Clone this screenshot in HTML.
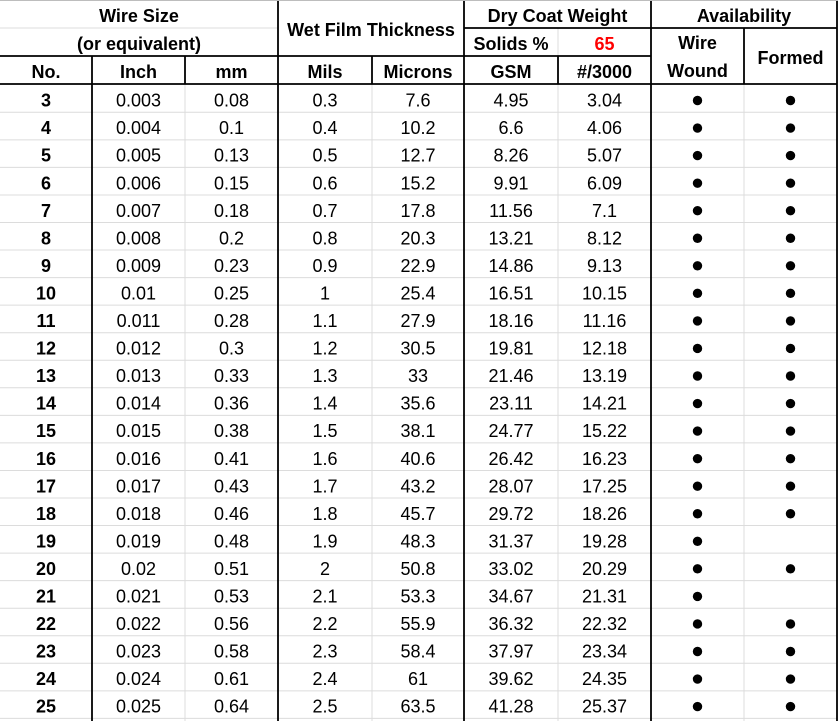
<!DOCTYPE html>
<html>
<head>
<meta charset="utf-8">
<style>
html,body{margin:0;padding:0;background:#fff;}
body{width:840px;height:721px;overflow:hidden;}
svg{display:block;}
.h{font-family:"Liberation Sans",sans-serif;font-weight:bold;font-size:18px;fill:#000;text-anchor:middle;}
.d{font-family:"Liberation Sans",sans-serif;font-size:18px;fill:#000;text-anchor:middle;}
.b{font-weight:bold;}
.g{stroke:#dcdcdc;stroke-width:1;}
.k{stroke:#000;stroke-width:1.8;}
</style>
</head>
<body>
<svg width="840" height="721" viewBox="0 0 840 721" xmlns="http://www.w3.org/2000/svg">
<rect x="0" y="0" width="840" height="721" fill="#fff"/>

<!-- data gridlines -->
<g class="g">
<line x1="0" x2="837" y1="139.85" y2="139.85"/>
<line x1="0" x2="837" y1="167.4" y2="167.4"/>
<line x1="0" x2="837" y1="194.95" y2="194.95"/>
<line x1="0" x2="837" y1="222.5" y2="222.5"/>
<line x1="0" x2="837" y1="250.05" y2="250.05"/>
<line x1="0" x2="837" y1="277.6" y2="277.6"/>
<line x1="0" x2="837" y1="305.15" y2="305.15"/>
<line x1="0" x2="837" y1="332.7" y2="332.7"/>
<line x1="0" x2="837" y1="360.25" y2="360.25"/>
<line x1="0" x2="837" y1="387.8" y2="387.8"/>
<line x1="0" x2="837" y1="415.35" y2="415.35"/>
<line x1="0" x2="837" y1="442.9" y2="442.9"/>
<line x1="0" x2="837" y1="470.45" y2="470.45"/>
<line x1="0" x2="837" y1="498" y2="498"/>
<line x1="0" x2="837" y1="525.55" y2="525.55"/>
<line x1="0" x2="837" y1="553.1" y2="553.1"/>
<line x1="0" x2="837" y1="580.65" y2="580.65"/>
<line x1="0" x2="837" y1="608.2" y2="608.2"/>
<line x1="0" x2="837" y1="635.75" y2="635.75"/>
<line x1="0" x2="837" y1="663.3" y2="663.3"/>
<line x1="0" x2="837" y1="690.85" y2="690.85"/>
<line x1="0" x2="837" y1="718.4" y2="718.4"/>
<line x1="0" x2="837" y1="112.3" y2="112.3"/>
<!-- vertical gray in data -->
<line x1="185" x2="185" y1="84" y2="721"/>
<line x1="372" x2="372" y1="84" y2="721"/>
<line x1="558" x2="558" y1="84" y2="721"/>
<line x1="744" x2="744" y1="84" y2="721"/>
<!-- header gray -->
<line x1="0" x2="278" y1="28" y2="28"/>
<line x1="558" x2="558" y1="28" y2="56"/>
</g>
<line x1="0" x2="838" y1="0.5" y2="0.5" stroke="#bdbdbd" stroke-width="1"/>

<!-- black borders -->
<g class="k">
<line x1="464" x2="837" y1="28" y2="28"/>
<line x1="0" x2="651" y1="56" y2="56"/>
<line x1="0" x2="837" y1="84" y2="84"/>
<line x1="92" x2="92" y1="56" y2="721"/>
<line x1="185" x2="185" y1="56" y2="84"/>
<line x1="278" x2="278" y1="1" y2="721"/>
<line x1="372" x2="372" y1="56" y2="84"/>
<line x1="464" x2="464" y1="1" y2="721"/>
<line x1="558" x2="558" y1="56" y2="84"/>
<line x1="651" x2="651" y1="1" y2="721"/>
<line x1="744" x2="744" y1="28" y2="84"/>
<line x1="837" x2="837" y1="1" y2="721"/>
</g>

<!-- headers -->
<text class="h" x="139" y="22">Wire Size</text>
<text class="h" x="139" y="50">(or equivalent)</text>
<text class="h" x="371" y="36">Wet Film Thickness</text>
<text class="h" x="557.5" y="22">Dry Coat Weight</text>
<text class="h" x="511" y="50">Solids %</text>
<text class="h" x="604.5" y="50" style="fill:#ff0000">65</text>
<text class="h" x="744" y="22">Availability</text>
<text class="h" x="697.5" y="49">Wire</text>
<text class="h" x="697.5" y="77">Wound</text>
<text class="h" x="790.5" y="64">Formed</text>
<text class="h" x="46" y="78">No.</text>
<text class="h" x="138.5" y="78">Inch</text>
<text class="h" x="231.5" y="78">mm</text>
<text class="h" x="325" y="78">Mils</text>
<text class="h" x="418" y="78">Microns</text>
<text class="h" x="511" y="78">GSM</text>
<text class="h" x="604.5" y="78">#/3000</text>

<!-- data rows -->
<g class="d">
<g transform="translate(0,112.3)"><text class="b" x="46" y="-5.7">3</text><text x="138.5" y="-5.7">0.003</text><text x="231.5" y="-5.7">0.08</text><text x="325" y="-5.7">0.3</text><text x="418" y="-5.7">7.6</text><text x="511" y="-5.7">4.95</text><text x="604.5" y="-5.7">3.04</text><circle cx="697.5" cy="-11.8" r="4.7" fill="#000"/><circle cx="790.5" cy="-11.8" r="4.7" fill="#000"/></g>
<g transform="translate(0,139.85)"><text class="b" x="46" y="-5.7">4</text><text x="138.5" y="-5.7">0.004</text><text x="231.5" y="-5.7">0.1</text><text x="325" y="-5.7">0.4</text><text x="418" y="-5.7">10.2</text><text x="511" y="-5.7">6.6</text><text x="604.5" y="-5.7">4.06</text><circle cx="697.5" cy="-11.8" r="4.7" fill="#000"/><circle cx="790.5" cy="-11.8" r="4.7" fill="#000"/></g>
<g transform="translate(0,167.4)"><text class="b" x="46" y="-5.7">5</text><text x="138.5" y="-5.7">0.005</text><text x="231.5" y="-5.7">0.13</text><text x="325" y="-5.7">0.5</text><text x="418" y="-5.7">12.7</text><text x="511" y="-5.7">8.26</text><text x="604.5" y="-5.7">5.07</text><circle cx="697.5" cy="-11.8" r="4.7" fill="#000"/><circle cx="790.5" cy="-11.8" r="4.7" fill="#000"/></g>
<g transform="translate(0,194.95)"><text class="b" x="46" y="-5.7">6</text><text x="138.5" y="-5.7">0.006</text><text x="231.5" y="-5.7">0.15</text><text x="325" y="-5.7">0.6</text><text x="418" y="-5.7">15.2</text><text x="511" y="-5.7">9.91</text><text x="604.5" y="-5.7">6.09</text><circle cx="697.5" cy="-11.8" r="4.7" fill="#000"/><circle cx="790.5" cy="-11.8" r="4.7" fill="#000"/></g>
<g transform="translate(0,222.5)"><text class="b" x="46" y="-5.7">7</text><text x="138.5" y="-5.7">0.007</text><text x="231.5" y="-5.7">0.18</text><text x="325" y="-5.7">0.7</text><text x="418" y="-5.7">17.8</text><text x="511" y="-5.7">11.56</text><text x="604.5" y="-5.7">7.1</text><circle cx="697.5" cy="-11.8" r="4.7" fill="#000"/><circle cx="790.5" cy="-11.8" r="4.7" fill="#000"/></g>
<g transform="translate(0,250.05)"><text class="b" x="46" y="-5.7">8</text><text x="138.5" y="-5.7">0.008</text><text x="231.5" y="-5.7">0.2</text><text x="325" y="-5.7">0.8</text><text x="418" y="-5.7">20.3</text><text x="511" y="-5.7">13.21</text><text x="604.5" y="-5.7">8.12</text><circle cx="697.5" cy="-11.8" r="4.7" fill="#000"/><circle cx="790.5" cy="-11.8" r="4.7" fill="#000"/></g>
<g transform="translate(0,277.6)"><text class="b" x="46" y="-5.7">9</text><text x="138.5" y="-5.7">0.009</text><text x="231.5" y="-5.7">0.23</text><text x="325" y="-5.7">0.9</text><text x="418" y="-5.7">22.9</text><text x="511" y="-5.7">14.86</text><text x="604.5" y="-5.7">9.13</text><circle cx="697.5" cy="-11.8" r="4.7" fill="#000"/><circle cx="790.5" cy="-11.8" r="4.7" fill="#000"/></g>
<g transform="translate(0,305.15)"><text class="b" x="46" y="-5.7">10</text><text x="138.5" y="-5.7">0.01</text><text x="231.5" y="-5.7">0.25</text><text x="325" y="-5.7">1</text><text x="418" y="-5.7">25.4</text><text x="511" y="-5.7">16.51</text><text x="604.5" y="-5.7">10.15</text><circle cx="697.5" cy="-11.8" r="4.7" fill="#000"/><circle cx="790.5" cy="-11.8" r="4.7" fill="#000"/></g>
<g transform="translate(0,332.7)"><text class="b" x="46" y="-5.7">11</text><text x="138.5" y="-5.7">0.011</text><text x="231.5" y="-5.7">0.28</text><text x="325" y="-5.7">1.1</text><text x="418" y="-5.7">27.9</text><text x="511" y="-5.7">18.16</text><text x="604.5" y="-5.7">11.16</text><circle cx="697.5" cy="-11.8" r="4.7" fill="#000"/><circle cx="790.5" cy="-11.8" r="4.7" fill="#000"/></g>
<g transform="translate(0,360.25)"><text class="b" x="46" y="-5.7">12</text><text x="138.5" y="-5.7">0.012</text><text x="231.5" y="-5.7">0.3</text><text x="325" y="-5.7">1.2</text><text x="418" y="-5.7">30.5</text><text x="511" y="-5.7">19.81</text><text x="604.5" y="-5.7">12.18</text><circle cx="697.5" cy="-11.8" r="4.7" fill="#000"/><circle cx="790.5" cy="-11.8" r="4.7" fill="#000"/></g>
<g transform="translate(0,387.8)"><text class="b" x="46" y="-5.7">13</text><text x="138.5" y="-5.7">0.013</text><text x="231.5" y="-5.7">0.33</text><text x="325" y="-5.7">1.3</text><text x="418" y="-5.7">33</text><text x="511" y="-5.7">21.46</text><text x="604.5" y="-5.7">13.19</text><circle cx="697.5" cy="-11.8" r="4.7" fill="#000"/><circle cx="790.5" cy="-11.8" r="4.7" fill="#000"/></g>
<g transform="translate(0,415.35)"><text class="b" x="46" y="-5.7">14</text><text x="138.5" y="-5.7">0.014</text><text x="231.5" y="-5.7">0.36</text><text x="325" y="-5.7">1.4</text><text x="418" y="-5.7">35.6</text><text x="511" y="-5.7">23.11</text><text x="604.5" y="-5.7">14.21</text><circle cx="697.5" cy="-11.8" r="4.7" fill="#000"/><circle cx="790.5" cy="-11.8" r="4.7" fill="#000"/></g>
<g transform="translate(0,442.9)"><text class="b" x="46" y="-5.7">15</text><text x="138.5" y="-5.7">0.015</text><text x="231.5" y="-5.7">0.38</text><text x="325" y="-5.7">1.5</text><text x="418" y="-5.7">38.1</text><text x="511" y="-5.7">24.77</text><text x="604.5" y="-5.7">15.22</text><circle cx="697.5" cy="-11.8" r="4.7" fill="#000"/><circle cx="790.5" cy="-11.8" r="4.7" fill="#000"/></g>
<g transform="translate(0,470.45)"><text class="b" x="46" y="-5.7">16</text><text x="138.5" y="-5.7">0.016</text><text x="231.5" y="-5.7">0.41</text><text x="325" y="-5.7">1.6</text><text x="418" y="-5.7">40.6</text><text x="511" y="-5.7">26.42</text><text x="604.5" y="-5.7">16.23</text><circle cx="697.5" cy="-11.8" r="4.7" fill="#000"/><circle cx="790.5" cy="-11.8" r="4.7" fill="#000"/></g>
<g transform="translate(0,498)"><text class="b" x="46" y="-5.7">17</text><text x="138.5" y="-5.7">0.017</text><text x="231.5" y="-5.7">0.43</text><text x="325" y="-5.7">1.7</text><text x="418" y="-5.7">43.2</text><text x="511" y="-5.7">28.07</text><text x="604.5" y="-5.7">17.25</text><circle cx="697.5" cy="-11.8" r="4.7" fill="#000"/><circle cx="790.5" cy="-11.8" r="4.7" fill="#000"/></g>
<g transform="translate(0,525.55)"><text class="b" x="46" y="-5.7">18</text><text x="138.5" y="-5.7">0.018</text><text x="231.5" y="-5.7">0.46</text><text x="325" y="-5.7">1.8</text><text x="418" y="-5.7">45.7</text><text x="511" y="-5.7">29.72</text><text x="604.5" y="-5.7">18.26</text><circle cx="697.5" cy="-11.8" r="4.7" fill="#000"/><circle cx="790.5" cy="-11.8" r="4.7" fill="#000"/></g>
<g transform="translate(0,553.1)"><text class="b" x="46" y="-5.7">19</text><text x="138.5" y="-5.7">0.019</text><text x="231.5" y="-5.7">0.48</text><text x="325" y="-5.7">1.9</text><text x="418" y="-5.7">48.3</text><text x="511" y="-5.7">31.37</text><text x="604.5" y="-5.7">19.28</text><circle cx="697.5" cy="-11.8" r="4.7" fill="#000"/></g>
<g transform="translate(0,580.65)"><text class="b" x="46" y="-5.7">20</text><text x="138.5" y="-5.7">0.02</text><text x="231.5" y="-5.7">0.51</text><text x="325" y="-5.7">2</text><text x="418" y="-5.7">50.8</text><text x="511" y="-5.7">33.02</text><text x="604.5" y="-5.7">20.29</text><circle cx="697.5" cy="-11.8" r="4.7" fill="#000"/><circle cx="790.5" cy="-11.8" r="4.7" fill="#000"/></g>
<g transform="translate(0,608.2)"><text class="b" x="46" y="-5.7">21</text><text x="138.5" y="-5.7">0.021</text><text x="231.5" y="-5.7">0.53</text><text x="325" y="-5.7">2.1</text><text x="418" y="-5.7">53.3</text><text x="511" y="-5.7">34.67</text><text x="604.5" y="-5.7">21.31</text><circle cx="697.5" cy="-11.8" r="4.7" fill="#000"/></g>
<g transform="translate(0,635.75)"><text class="b" x="46" y="-5.7">22</text><text x="138.5" y="-5.7">0.022</text><text x="231.5" y="-5.7">0.56</text><text x="325" y="-5.7">2.2</text><text x="418" y="-5.7">55.9</text><text x="511" y="-5.7">36.32</text><text x="604.5" y="-5.7">22.32</text><circle cx="697.5" cy="-11.8" r="4.7" fill="#000"/><circle cx="790.5" cy="-11.8" r="4.7" fill="#000"/></g>
<g transform="translate(0,663.3)"><text class="b" x="46" y="-5.7">23</text><text x="138.5" y="-5.7">0.023</text><text x="231.5" y="-5.7">0.58</text><text x="325" y="-5.7">2.3</text><text x="418" y="-5.7">58.4</text><text x="511" y="-5.7">37.97</text><text x="604.5" y="-5.7">23.34</text><circle cx="697.5" cy="-11.8" r="4.7" fill="#000"/><circle cx="790.5" cy="-11.8" r="4.7" fill="#000"/></g>
<g transform="translate(0,690.85)"><text class="b" x="46" y="-5.7">24</text><text x="138.5" y="-5.7">0.024</text><text x="231.5" y="-5.7">0.61</text><text x="325" y="-5.7">2.4</text><text x="418" y="-5.7">61</text><text x="511" y="-5.7">39.62</text><text x="604.5" y="-5.7">24.35</text><circle cx="697.5" cy="-11.8" r="4.7" fill="#000"/><circle cx="790.5" cy="-11.8" r="4.7" fill="#000"/></g>
<g transform="translate(0,718.4)"><text class="b" x="46" y="-5.7">25</text><text x="138.5" y="-5.7">0.025</text><text x="231.5" y="-5.7">0.64</text><text x="325" y="-5.7">2.5</text><text x="418" y="-5.7">63.5</text><text x="511" y="-5.7">41.28</text><text x="604.5" y="-5.7">25.37</text><circle cx="697.5" cy="-11.8" r="4.7" fill="#000"/><circle cx="790.5" cy="-11.8" r="4.7" fill="#000"/></g>
</g>
</svg>
</body>
</html>
